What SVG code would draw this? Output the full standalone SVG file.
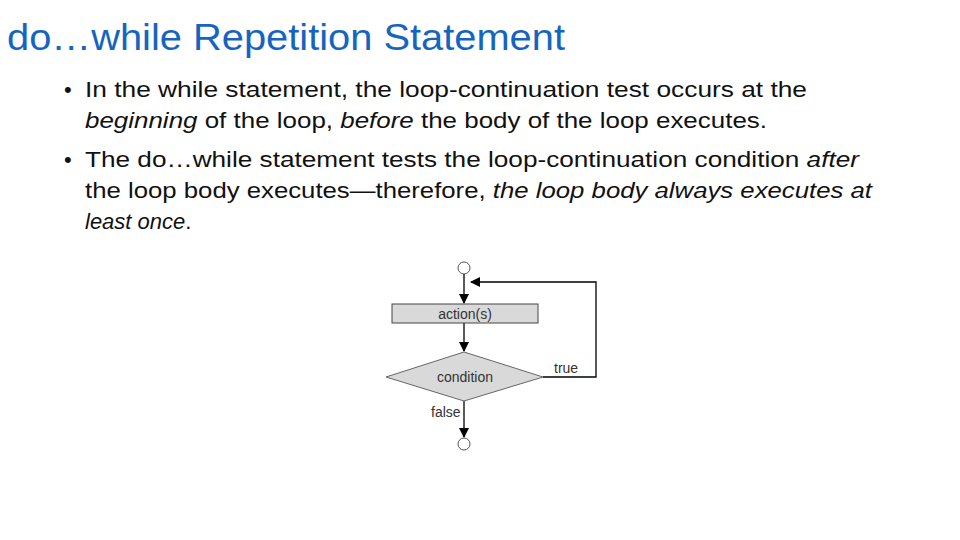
<svg xmlns="http://www.w3.org/2000/svg" width="960" height="540" viewBox="0 0 960 540">
<style>
.t{font-family:"Liberation Sans",Arial,sans-serif;}
.b{font-size:22px;fill:#111;}
.s{font-size:14px;fill:#333;}
.ln{stroke:#000;stroke-width:1.3;fill:none;}
</style>
<defs><marker id="a" markerWidth="10" markerHeight="10" refX="9" refY="5" orient="auto" markerUnits="userSpaceOnUse"><path d="M0,0 L10,5 L0,10z" fill="#000"/></marker></defs>
<rect width="960" height="540" fill="#fff"/>
<text class="t" x="7" y="50" font-size="37" fill="#1565c0" textLength="558" lengthAdjust="spacingAndGlyphs">do…while Repetition Statement</text>
<g class="t b">
<text x="64" y="97">•</text>
<text x="85" y="97" textLength="722" lengthAdjust="spacingAndGlyphs">In the while statement, the loop-continuation test occurs at the</text>
<text x="85" y="128" textLength="682" lengthAdjust="spacingAndGlyphs"><tspan font-style="italic">beginning</tspan> of the loop, <tspan font-style="italic">before</tspan> the body of the loop executes.</text>
<text x="64" y="167">•</text>
<text x="85" y="167" textLength="774" lengthAdjust="spacingAndGlyphs">The do…while statement tests the loop-continuation condition <tspan font-style="italic">after</tspan></text>
<text x="85" y="198" textLength="787" lengthAdjust="spacingAndGlyphs">the loop body executes—therefore, <tspan font-style="italic">the loop body always executes at</tspan></text>
<text x="85" y="229"><tspan font-style="italic">least once</tspan>.</text>
</g>
<g id="connectors" class="ln">
<line x1="464" y1="274" x2="464" y2="303" marker-end="url(#a)"/>
<line x1="464" y1="323" x2="464" y2="351" marker-end="url(#a)"/>
<line x1="464" y1="401" x2="464" y2="437" marker-end="url(#a)"/>
<polyline points="543,377 596,377 596,282 471,282" marker-end="url(#a)"/>
</g>
<g id="start"><circle cx="464" cy="268" r="6" fill="#fff" stroke="#555"/></g>
<g id="action"><rect x="392" y="304" width="146" height="19" fill="#d9d9d9" stroke="#444"/><text class="t s" x="465" y="319" text-anchor="middle">action(s)</text></g>
<g id="condition"><polygon points="464,352 543,377 464,401 386,377" fill="#d9d9d9" stroke="#666"/><text class="t s" x="465" y="382" text-anchor="middle">condition</text></g>
<text class="t s" x="554" y="373">true</text>
<text class="t s" x="431" y="417">false</text>
<g id="end"><circle cx="464" cy="444" r="6" fill="#fff" stroke="#555"/></g>
</svg>
